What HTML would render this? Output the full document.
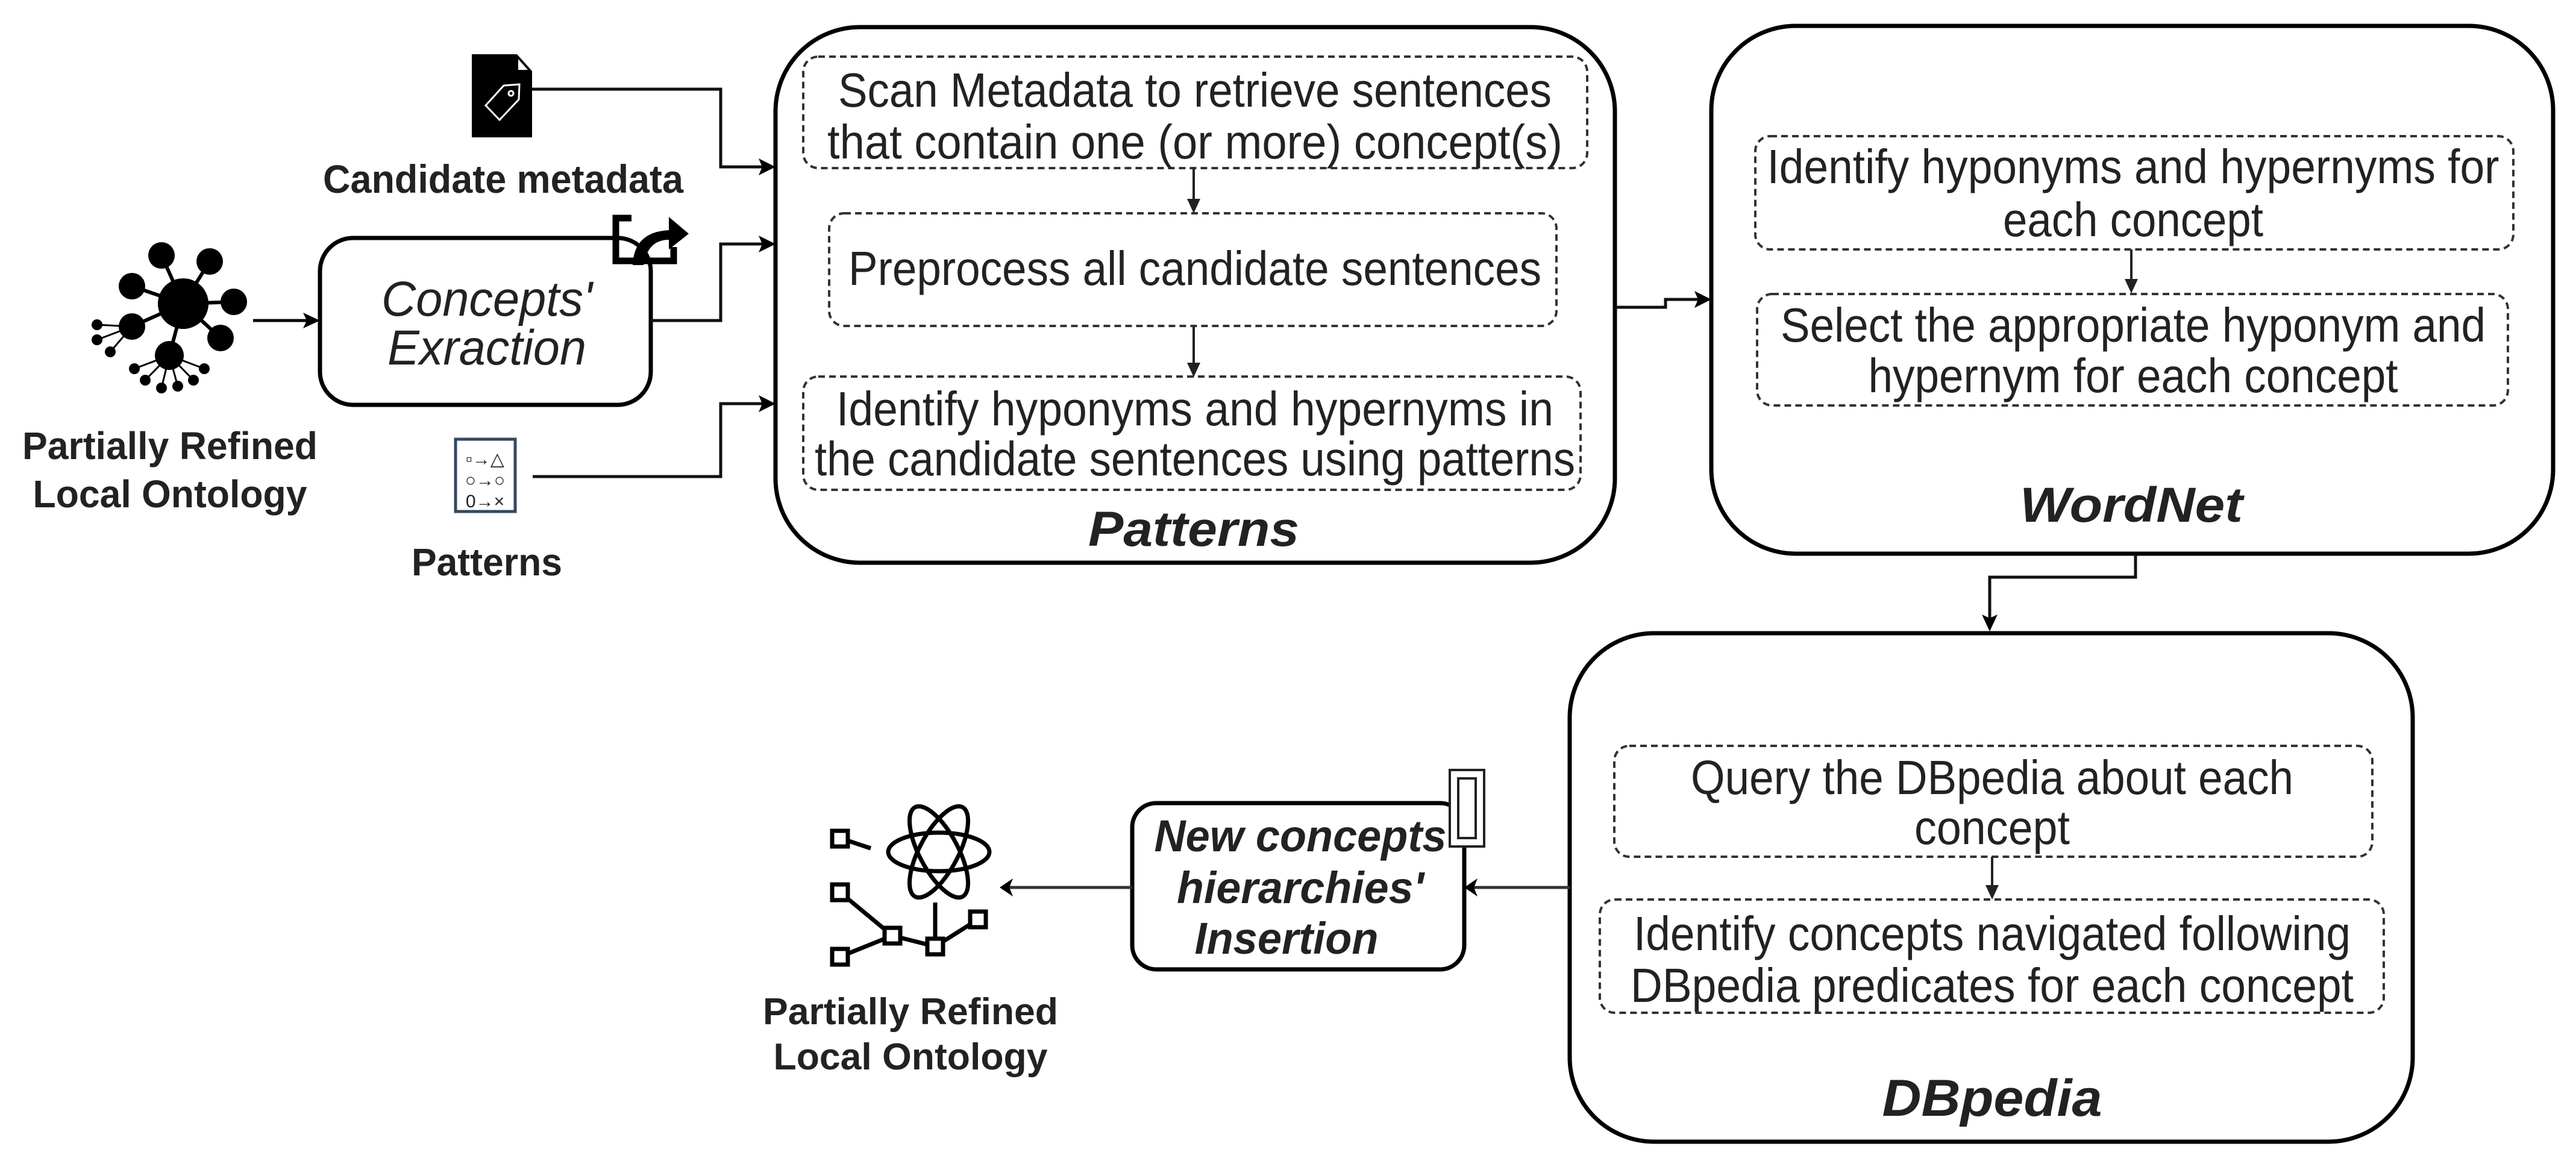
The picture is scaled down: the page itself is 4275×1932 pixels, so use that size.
<!DOCTYPE html>
<html><head><meta charset="utf-8"><style>
html,body{margin:0;padding:0;background:#fff;}
svg{display:block;}
text{font-family:"Liberation Sans",Arial,sans-serif;fill:#222;}
</style></head><body>
<svg width="4275" height="1932" viewBox="0 0 4275 1932" xmlns="http://www.w3.org/2000/svg">
<rect width="4275" height="1932" fill="#fff"/>

<!-- ===== Metadata icon ===== -->
<path d="M783 90 H858 L883 118 V228 H783 Z" fill="#000"/>
<path d="M860 98 L876 116 H860 Z" fill="#fff"/>
<g fill="none" stroke="#fff" stroke-width="3">
<path d="M806 175 L836 142 L862 140 L861 165 L829 199 Z"/>
<circle cx="848" cy="155" r="4"/>
</g>
<text x="835" y="320" font-size="66" font-weight="bold" text-anchor="middle" textLength="598" lengthAdjust="spacingAndGlyphs" fill="#111">Candidate metadata</text>

<!-- ===== Network icon ===== -->
<g fill="#000" stroke="#000" stroke-width="6">
<line x1="304" y1="504" x2="268" y2="424"/><line x1="304" y1="504" x2="348" y2="434"/>
<line x1="304" y1="504" x2="219" y2="475"/><line x1="304" y1="504" x2="388" y2="501"/>
<line x1="304" y1="504" x2="219" y2="542"/><line x1="304" y1="504" x2="366" y2="561"/>
<line x1="304" y1="504" x2="281" y2="590"/>
<g stroke-width="3">
<line x1="219" y1="542" x2="161" y2="539"/><line x1="219" y1="542" x2="161" y2="564"/><line x1="219" y1="542" x2="183" y2="584"/>
<line x1="281" y1="590" x2="223" y2="612"/><line x1="281" y1="590" x2="241" y2="631"/><line x1="281" y1="590" x2="268" y2="644"/>
<line x1="281" y1="590" x2="295" y2="641"/><line x1="281" y1="590" x2="321" y2="631"/><line x1="281" y1="590" x2="339" y2="612"/>
</g>
</g>
<g fill="#000">
<circle cx="304" cy="504" r="42"/>
<circle cx="268" cy="424" r="22"/><circle cx="348" cy="434" r="22"/><circle cx="219" cy="475" r="22"/>
<circle cx="388" cy="501" r="22"/><circle cx="219" cy="542" r="22"/><circle cx="366" cy="561" r="22"/>
<circle cx="281" cy="590" r="24"/>
<circle cx="161" cy="539" r="9"/><circle cx="161" cy="564" r="9"/><circle cx="183" cy="584" r="9"/>
<circle cx="223" cy="612" r="9"/><circle cx="241" cy="631" r="9"/><circle cx="268" cy="644" r="9"/>
<circle cx="295" cy="641" r="9"/><circle cx="321" cy="631" r="9"/><circle cx="339" cy="612" r="9"/>
</g>
<text x="282" y="762" font-size="64" font-weight="bold" text-anchor="middle" textLength="490" lengthAdjust="spacingAndGlyphs" fill="#111">Partially Refined</text>
<text x="282" y="842" font-size="64" font-weight="bold" text-anchor="middle" textLength="455" lengthAdjust="spacingAndGlyphs" fill="#111">Local Ontology</text>

<!-- arrow net -> concepts -->
<line x1="420" y1="532" x2="520" y2="532" stroke="#000" stroke-width="5"/>
<path d="M531 532 L503 519 L509 532 L503 545 Z" fill="#000"/>

<!-- ===== Concepts box ===== -->
<rect x="531" y="395" width="549" height="277" rx="55" fill="#fff" stroke="#000" stroke-width="7"/>
<text x="808" y="524" font-size="82" font-style="italic" text-anchor="middle" textLength="350" lengthAdjust="spacingAndGlyphs" fill="#111">Concepts'</text>
<text x="808" y="605" font-size="82" font-style="italic" text-anchor="middle" textLength="330" lengthAdjust="spacingAndGlyphs" fill="#111">Exraction</text>

<!-- share icon -->
<g fill="none" stroke="#000" stroke-width="11">
<path d="M1048 362 H1022 V433 H1118 V410"/>
</g>
<path d="M1050 440 Q1052 385 1110 382 L1110 360 L1143 388 L1110 414 L1110 398 Q1075 398 1068 440 Z" fill="#000"/>

<!-- patterns icon -->
<rect x="756" y="729" width="99" height="120" fill="#fff" stroke="#34495e" stroke-width="5"/>
<text x="805" y="772" font-size="30" text-anchor="middle" fill="#34495e">▫→△</text>
<text x="805" y="807" font-size="30" text-anchor="middle" fill="#34495e">○→○</text>
<text x="805" y="842" font-size="30" text-anchor="middle" fill="#34495e">0→×</text>
<text x="808" y="955" font-size="64" font-weight="bold" text-anchor="middle" textLength="250" lengthAdjust="spacingAndGlyphs" fill="#111">Patterns</text>

<!-- connectors into Patterns -->
<g fill="none" stroke="#111" stroke-width="5">
<polyline points="883,148 1196,148 1196,277 1270,277"/>
<polyline points="1080,532 1196,532 1196,405 1270,405"/>
<polyline points="884,791 1196,791 1196,670 1270,670"/>
</g>
<g fill="#000">
<path d="M1287 277 L1259 263 L1265 277 L1259 291 Z"/>
<path d="M1287 405 L1259 391 L1265 405 L1259 419 Z"/>
<path d="M1287 670 L1259 656 L1265 670 L1259 684 Z"/>
</g>

<!-- ===== Patterns box ===== -->
<rect x="1287" y="45" width="1393" height="889" rx="140" fill="none" stroke="#000" stroke-width="7"/>
<g fill="none" stroke="#333" stroke-width="4" stroke-dasharray="11 7">
<rect x="1333" y="94" width="1301" height="185" rx="25"/>
<rect x="1376" y="354" width="1207" height="187" rx="25"/>
<rect x="1333" y="625" width="1290" height="188" rx="25"/>
</g>
<g font-size="80" text-anchor="middle" fill="#333">
<text x="1983" y="177" textLength="1184" lengthAdjust="spacingAndGlyphs">Scan Metadata to retrieve sentences</text>
<text x="1983" y="263" textLength="1220" lengthAdjust="spacingAndGlyphs">that contain one (or  more) concept(s)</text>
<text x="1983" y="473" textLength="1150" lengthAdjust="spacingAndGlyphs">Preprocess all candidate sentences</text>
<text x="1983" y="706" textLength="1190" lengthAdjust="spacingAndGlyphs">Identify hyponyms and hypernyms in</text>
<text x="1983" y="789" textLength="1262" lengthAdjust="spacingAndGlyphs">the candidate sentences using patterns</text>
</g>
<g stroke="#222" stroke-width="4">
<line x1="1981" y1="279" x2="1981" y2="338"/>
<line x1="1981" y1="541" x2="1981" y2="612"/>
</g>
<g fill="#222">
<path d="M1981 354 L1970 330 L1992 330 Z"/>
<path d="M1981 626 L1970 602 L1992 602 Z"/>
</g>
<text x="1981" y="906" font-size="82" font-weight="bold" font-style="italic" text-anchor="middle" textLength="350" lengthAdjust="spacingAndGlyphs" fill="#111">Patterns</text>

<!-- Patterns -> WordNet -->
<polyline points="2680,510 2764,510 2764,497 2822,497" fill="none" stroke="#111" stroke-width="5"/>
<path d="M2840 497 L2812 483 L2818 497 L2812 511 Z" fill="#000"/>

<!-- ===== WordNet box ===== -->
<rect x="2840" y="43" width="1397" height="876" rx="140" fill="none" stroke="#000" stroke-width="7"/>
<g fill="none" stroke="#333" stroke-width="4" stroke-dasharray="11 7">
<rect x="2913" y="226" width="1258" height="188" rx="25"/>
<rect x="2916" y="488" width="1246" height="185" rx="25"/>
</g>
<g font-size="80" text-anchor="middle" fill="#333">
<text x="3540" y="304" textLength="1215" lengthAdjust="spacingAndGlyphs">Identify hyponyms and hypernyms for</text>
<text x="3540" y="392" textLength="432" lengthAdjust="spacingAndGlyphs">each concept</text>
<text x="3540" y="567" textLength="1170" lengthAdjust="spacingAndGlyphs">Select the appropriate hyponym and</text>
<text x="3540" y="651" textLength="879" lengthAdjust="spacingAndGlyphs">hypernym for each concept</text>
</g>
<line x1="3537" y1="414" x2="3537" y2="470" stroke="#222" stroke-width="4"/>
<path d="M3537 487 L3526 463 L3548 463 Z" fill="#222"/>
<text x="3537" y="866" font-size="82" font-weight="bold" font-style="italic" text-anchor="middle" textLength="370" lengthAdjust="spacingAndGlyphs" fill="#111">WordNet</text>

<!-- WordNet -> DBpedia -->
<polyline points="3544,919 3544,958 3302,958 3302,1030" fill="none" stroke="#111" stroke-width="5"/>
<path d="M3302 1048 L3289 1020 L3302 1026 L3315 1020 Z" fill="#000"/>

<!-- ===== DBpedia box ===== -->
<rect x="2605" y="1051" width="1399" height="844" rx="140" fill="none" stroke="#000" stroke-width="7"/>
<g fill="none" stroke="#333" stroke-width="4" stroke-dasharray="11 7">
<rect x="2679" y="1238" width="1258" height="184" rx="25"/>
<rect x="2655" y="1493" width="1301" height="188" rx="25"/>
</g>
<g font-size="80" text-anchor="middle" fill="#333">
<text x="3306" y="1318" textLength="1000" lengthAdjust="spacingAndGlyphs">Query the DBpedia about each</text>
<text x="3306" y="1401" textLength="258" lengthAdjust="spacingAndGlyphs">concept</text>
<text x="3306" y="1577" textLength="1190" lengthAdjust="spacingAndGlyphs">Identify concepts navigated following</text>
<text x="3306" y="1663" textLength="1200" lengthAdjust="spacingAndGlyphs">DBpedia predicates for each concept</text>
</g>
<line x1="3306" y1="1422" x2="3306" y2="1476" stroke="#222" stroke-width="4"/>
<path d="M3306 1493 L3295 1469 L3317 1469 Z" fill="#222"/>
<text x="3306" y="1852" font-size="86" font-weight="bold" font-style="italic" text-anchor="middle" textLength="365" lengthAdjust="spacingAndGlyphs" fill="#111">DBpedia</text>

<!-- DBpedia -> New concepts -->
<line x1="2605" y1="1473" x2="2440" y2="1473" stroke="#333" stroke-width="5"/>
<path d="M2430 1473 L2452 1458 L2446 1473 L2452 1488 Z" fill="#000"/>

<!-- ===== New concepts box ===== -->
<rect x="1879" y="1333" width="551" height="276" rx="40" fill="#fff" stroke="#000" stroke-width="7"/>
<g font-size="74" font-weight="bold" font-style="italic" text-anchor="middle" fill="#111">
<text x="2158" y="1413" textLength="485" lengthAdjust="spacingAndGlyphs">New concepts</text>
<text x="2158" y="1499" textLength="410" lengthAdjust="spacingAndGlyphs">hierarchies'</text>
<text x="2135" y="1583" textLength="305" lengthAdjust="spacingAndGlyphs">Insertion</text>
</g>
<!-- tall double rect icon -->
<rect x="2406" y="1278" width="57" height="127" fill="#fff" stroke="#222" stroke-width="4"/>
<rect x="2420" y="1292" width="29" height="99" fill="#fff" stroke="#222" stroke-width="4"/>

<!-- New -> ontology -->
<line x1="1879" y1="1473" x2="1670" y2="1473" stroke="#333" stroke-width="5"/>
<path d="M1659 1473 L1681 1458 L1675 1473 L1681 1488 Z" fill="#000"/>

<!-- ===== Atom / tree icon ===== -->
<g fill="none" stroke="#000" stroke-width="7">
<ellipse cx="1558" cy="1414" rx="84" ry="32"/>
<ellipse cx="1558" cy="1414" rx="84" ry="32" transform="rotate(62 1558 1414)"/>
<ellipse cx="1558" cy="1414" rx="84" ry="32" transform="rotate(-62 1558 1414)"/>
<line x1="1406" y1="1395" x2="1445" y2="1408"/>
<line x1="1394" y1="1481" x2="1481" y2="1553"/>
<line x1="1394" y1="1588" x2="1481" y2="1553"/>
<line x1="1481" y1="1553" x2="1552" y2="1571"/>
<line x1="1552" y1="1571" x2="1623" y2="1526"/>
<line x1="1552" y1="1571" x2="1552" y2="1498"/>
</g>
<g fill="#fff" stroke="#000" stroke-width="7">
<rect x="1381" y="1379" width="26" height="26"/>
<rect x="1381" y="1468" width="26" height="26"/>
<rect x="1381" y="1575" width="26" height="26"/>
<rect x="1468" y="1540" width="26" height="26"/>
<rect x="1539" y="1558" width="26" height="26"/>
<rect x="1610" y="1513" width="26" height="26"/>
</g>
<text x="1511" y="1700" font-size="62" font-weight="bold" text-anchor="middle" textLength="490" lengthAdjust="spacingAndGlyphs" fill="#111">Partially Refined</text>
<text x="1511" y="1775" font-size="62" font-weight="bold" text-anchor="middle" textLength="455" lengthAdjust="spacingAndGlyphs" fill="#111">Local Ontology</text>
</svg>
</body></html>
